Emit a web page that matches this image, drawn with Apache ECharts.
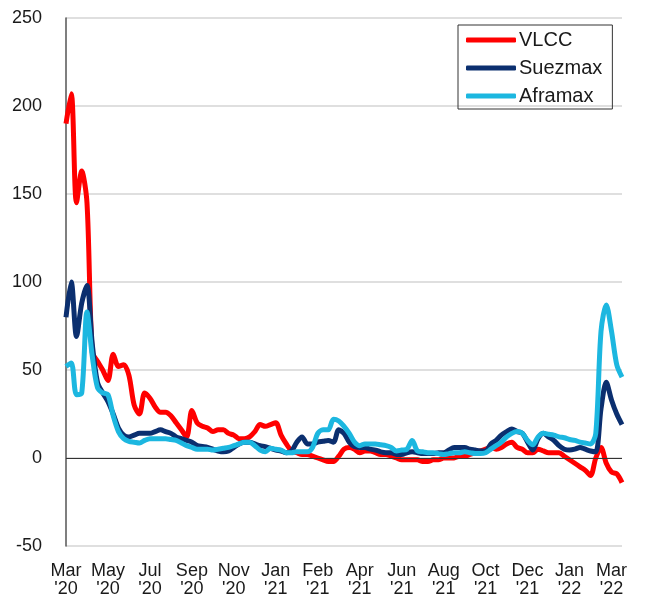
<!DOCTYPE html>
<html>
<head>
<meta charset="utf-8">
<script src="https://cdn.jsdelivr.net/npm/echarts@6/dist/echarts.min.js"></script>
<style>
  html, body { margin: 0; padding: 0; background: #fff; }
  #chart { width: 646px; height: 601px; }
</style>
</head>
<body>
<div id="chart"></div>
<script>
// x-axis labels, one every 8 weekly points
const tickLabels = ["Mar\n'20", "May\n'20", "Jul\n'20", "Sep\n'20", "Nov\n'20", "Jan\n'21", "Feb\n'21",
  "Apr\n'21", "Jun\n'21", "Aug\n'21", "Oct\n'21", "Dec\n'21", "Jan\n'22", "Mar\n'22"];
const labelStep = 8;

const vlcc = [190, 207, 145, 163, 145, 60, 55, 50, 44, 59, 52, 53, 47, 30, 25, 37, 34, 29, 26, 26, 24, 20, 16, 12, 27, 20,
  18,
  17, 15, 16, 16, 14, 13, 11, 11, 12, 15, 19, 18, 19, 20, 13, 8, 4, 3, 2, 2, 1, 0, -1, -2, -2, 1, 5, 6, 5, 3,
  4, 4, 3, 2, 2, 1, 0, -1, -1, -1, -1, -2, -2, -1, -1, 0, 0, 0, 1, 1, 2, 3,
  4,
  5, 6, 5, 6, 8, 9, 6, 5, 3, 3, 5, 4, 3, 3, 3, 1, -1, -3, -5, -7, -10, 0, 6, -3, -8, -9, -14];

const suezmax = [80, 100, 69, 88, 98, 65, 43, 37, 32, 25, 17, 13, 12, 13, 14, 14, 14, 15, 16, 15, 14, 12, 11, 10, 9, 7,
  6.5,
  6, 5, 4, 3.5, 4, 6, 8, 9, 9, 8, 7, 6.5, 5.5, 4.5, 4, 3, 4, 9, 12, 8, 8, 9, 9.5, 10, 9, 16, 14, 9, 6.5, 6,
  6, 5, 4.5, 3.5, 3, 3, 2, 2, 3, 3.5, 3, 2.5, 2.5, 2.5, 3, 3, 4.5, 6, 6, 6, 5, 4.5,
  4,
  4, 8, 10, 13, 15, 16.5, 15, 14, 9, 4.5, 11, 14, 12, 10, 7, 5, 4.5, 5, 6, 5, 4, 3.5, 28, 43, 33, 25, 19];

const aframax = [52, 54, 36, 37, 83, 58, 40, 37, 36, 24, 15, 11, 9.5, 9, 8.5, 10, 11, 11, 11, 11, 10.5, 10, 8.5, 7, 6, 5,
  5,
  5, 4.5, 5, 5.5, 6, 7, 8, 9, 9, 7, 4.5, 3.5, 5.5, 5, 4.5, 3, 3, 3.5, 3.5, 3.5, 6, 14, 16, 16, 22, 21, 18, 14, 9, 7,
  8, 8, 8, 7.5, 7, 6, 4, 4.5, 5, 10, 4, 3.5, 3, 3, 2.5, 2, 2.5, 3, 3, 3.5, 3, 2.5,
  2.5,
  3, 5, 7, 9, 12, 14, 15, 14, 10, 7.5, 12, 14, 13.5, 13, 12, 11.5, 10.5, 10, 9, 8.5, 8, 14, 72, 87, 72, 53, 46];

const categories = vlcc.map((v, i) => i);

const font = "'Liberation Sans', Arial, sans-serif";
const chart = echarts.init(document.getElementById('chart'));

const option = {
  animation: false,
  textStyle: { fontFamily: font },
  grid: { left: 66, top: 18, width: 556, height: 528 },
  legend: {
    orient: 'vertical',
    left: 458,
    top: 25,
    padding: [5, 10, 3, 8],
    itemWidth: 50,
    itemHeight: 5,
    itemGap: 8,
    icon: 'roundRect',
    borderColor: '#333',
    borderWidth: 1,
    textStyle: { fontSize: 20, color: '#1a1a1a', lineHeight: 20, padding: [0, 0, 0, -2] },
    data: ['VLCC', 'Suezmax', 'Aframax']
  },
  xAxis: {
    type: 'category',
    data: categories,
    boundaryGap: false,
    axisLine: { show: false },
    axisTick: { show: false },
    axisLabel: {
      interval: labelStep - 1,
      margin: 16,
      fontSize: 18,
      lineHeight: 18,
      color: '#1a1a1a',
      formatter: (v, i) => (i % labelStep === 0 ? tickLabels[i / labelStep] : '')
    },
    splitLine: { show: false }
  },
  yAxis: {
    type: 'value',
    min: -50,
    max: 250,
    interval: 50,
    axisLine: { show: true, lineStyle: { color: '#555', width: 1.5 } },
    axisTick: { show: false },
    axisLabel: { fontSize: 18, color: '#1a1a1a', margin: 24 },
    splitLine: { lineStyle: { color: '#d4d4d4', width: 1.5 } }
  },
  series: [
    {
      name: 'VLCC',
      type: 'line',
      data: vlcc,
      smooth: 0.3,
      showSymbol: false,
      lineStyle: { color: '#ff0000', width: 5 },
      itemStyle: { color: '#ff0000' },
      markLine: {
        silent: true,
        symbol: 'none',
        label: { show: false },
        lineStyle: { color: '#333', width: 1, type: 'solid' },
        data: [{ yAxis: 0 }]
      }
    },
    {
      name: 'Suezmax',
      type: 'line',
      data: suezmax,
      smooth: 0.3,
      showSymbol: false,
      lineStyle: { color: '#0b2f6f', width: 5 },
      itemStyle: { color: '#0b2f6f' }
    },
    {
      name: 'Aframax',
      type: 'line',
      data: aframax,
      smooth: 0.3,
      showSymbol: false,
      lineStyle: { color: '#1cb7e0', width: 5 },
      itemStyle: { color: '#1cb7e0' }
    }
  ]
};

chart.setOption(option);
</script>
</body>
</html>
